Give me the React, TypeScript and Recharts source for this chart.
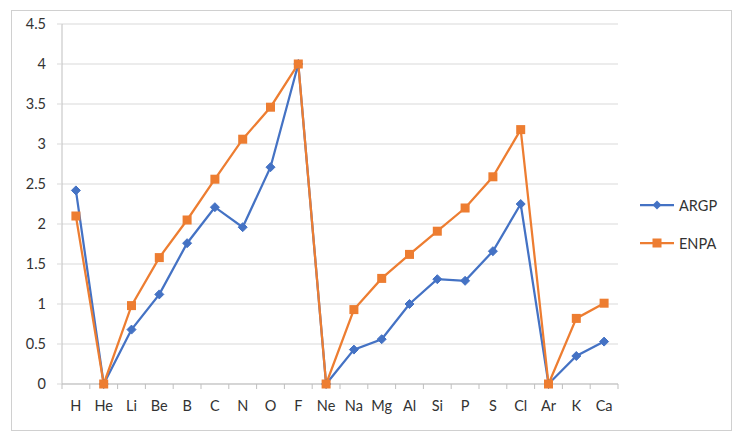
import { LineChart, Line, XAxis, YAxis, CartesianGrid, Legend } from 'recharts'

const elements = ['H', 'He', 'Li', 'Be', 'B', 'C', 'N', 'O', 'F', 'Ne', 'Na', 'Mg', 'Al', 'Si', 'P', 'S', 'Cl', 'Ar', 'K', 'Ca']
const argp = [2.42, 0, 0.68, 1.12, 1.76, 2.21, 1.96, 2.71, 4.0, 0, 0.43, 0.56, 1.0, 1.31, 1.29, 1.66, 2.25, 0, 0.35, 0.53]
const enpa = [2.1, 0, 0.98, 1.58, 2.05, 2.56, 3.06, 3.46, 4.0, 0, 0.93, 1.32, 1.62, 1.91, 2.2, 2.59, 3.18, 0, 0.82, 1.01]
const yTicks = [0, 0.5, 1, 1.5, 2, 2.5, 3, 3.5, 4, 4.5]

const data = elements.map((el, i) => ({ el, ARGP: argp[i], ENPA: enpa[i] }))

const BLUE = '#4472C4'
const ORANGE = '#ED7D31'
const TEXT = '#333333'
const AXIS = '#bfbfbf'
const GRID = '#d9d9d9'
const FONT = 'Lato, "Open Sans", sans-serif'

const W = 742
const H = 440
const legendWidth = 100
const plotRight = 618
const margin = { top: 24, right: W - plotRight - legendWidth, bottom: 26, left: 0 }
const yAxisWidth = 62
const band = (plotRight - margin.left - yAxisWidth) / elements.length

function diamond(props: any) {
  const { cx, cy, index } = props
  const r = 4.5
  return (
    <path
      key={`d-${index}`}
      d={`M${cx},${cy - r}L${cx + r},${cy}L${cx},${cy + r}L${cx - r},${cy}Z`}
      fill={BLUE}
      stroke={BLUE}
      strokeWidth={1}
    />
  )
}

function square(props: any) {
  const { cx, cy, index } = props
  const s = 4.5
  return <rect key={`s-${index}`} x={cx - s} y={cy - s} width={s * 2} height={s * 2} fill={ORANGE} />
}

function XTick(props: any) {
  const { x, y, payload, index } = props
  const left = x - band / 2
  return (
    <g>
      <line x1={left} y1={y} x2={left} y2={y + 5} stroke={AXIS} />
      {index === elements.length - 1 && <line x1={x + band / 2} y1={y} x2={x + band / 2} y2={y + 5} stroke={AXIS} />}
      <text x={x} y={y + 27} textAnchor="middle" fill={TEXT} fontSize={14.5} fontFamily={FONT}>
        {payload.value}
      </text>
    </g>
  )
}

function LegendContent() {
  const items = [
    { name: 'ARGP', color: BLUE, shape: 'diamond' },
    { name: 'ENPA', color: ORANGE, shape: 'square' },
  ]
  return (
    <div style={{ fontFamily: FONT, fontSize: 14.5, color: TEXT }}>
      {items.map((it) => (
        <div key={it.name} style={{ display: 'flex', alignItems: 'center', height: 38 }}>
          <svg width={36} height={12} style={{ marginRight: 3 }}>
            <line x1={0} y1={6} x2={34} y2={6} stroke={it.color} strokeWidth={2.25} />
            {it.shape === 'diamond' ? (
              <path d="M17,1.5L21.5,6L17,10.5L12.5,6Z" fill={it.color} />
            ) : (
              <rect x={12.5} y={1.5} width={9} height={9} fill={it.color} />
            )}
          </svg>
          <span>{it.name}</span>
        </div>
      ))}
    </div>
  )
}

export default function App() {
  return (
    <div style={{ position: 'absolute', left: 0, top: 0, width: W, height: H, background: '#fff' }}>
      <div
        style={{
          position: 'absolute',
          left: 11,
          top: 10,
          width: 719,
          height: 419,
          border: '1px solid #d0d0d0',
        }}
      />
      <LineChart width={W} height={H} data={data} margin={margin}>
        <CartesianGrid vertical={false} stroke={GRID} strokeWidth={1} />
        <XAxis
          dataKey="el"
          interval={0}
          height={30}
          tickSize={0}
          tickMargin={0}
          padding={{ left: band / 2, right: band / 2 }}
          axisLine={{ stroke: AXIS }}
          tick={<XTick />}
        />
        <YAxis
          width={yAxisWidth}
          domain={[0, 4.5]}
          ticks={yTicks}
          interval={0}
          tickSize={5}
          tickMargin={11}
          axisLine={{ stroke: AXIS }}
          tickLine={{ stroke: GRID }}
          tick={{ fill: TEXT, fontSize: 14.5, fontFamily: FONT }}
        />
        <Legend
          layout="vertical"
          align="right"
          verticalAlign="top"
          content={<LegendContent />}
          wrapperStyle={{ left: 640, top: 186, width: legendWidth }}
        />
        <Line
          dataKey="ARGP"
          stroke={BLUE}
          strokeWidth={2.25}
          dot={diamond}
          activeDot={false}
          isAnimationActive={false}
        />
        <Line
          dataKey="ENPA"
          stroke={ORANGE}
          strokeWidth={2.25}
          dot={square}
          activeDot={false}
          isAnimationActive={false}
        />
      </LineChart>
    </div>
  )
}
